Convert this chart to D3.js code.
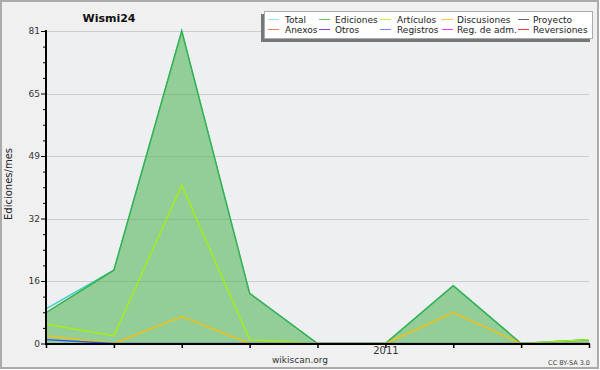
<!DOCTYPE html>
<html><head><meta charset="utf-8">
<script src="https://cdn.jsdelivr.net/npm/d3@7"></script>
<style>body{margin:0;background:#fff}svg{display:block}text{font-family:"DejaVu Sans",sans-serif}</style>
</head><body><svg id="c" width="600" height="370"></svg>
<script>
const months = ["2010-08","2010-09","2010-10","2010-11","2010-12","2011-01","2011-02","2011-03","2011-04"];
const xTickLabels = ["","","","","","2011","","",""];
const yTickLabels = ["0","16","32","49","65","81"];
const total       = [9,19,81,13,0,0,15,0,1];
const ediciones   = [8,19,81,13,0,0,15,0,1];
const articulos   = [5,2,41,1,0,0,0,0,1];
const discusiones = [2,0,7,0,0,0,8,0,0];
const registros   = [1,0,0,0,0,0,0,0,0];
const legendNames = ["Total","Ediciones","Artículos","Discusiones","Proyecto","Anexos","Otros","Registros","Reg. de adm.","Reversiones"];
const legendColors = ["#9ee0e0","#6cc46c","#c6f03c","#f6c83a","#666666","#f08048","#8a3ee0","#7a82ff","#e040e8","#f03838"];
const lineColors = {"Total":"#3ccfcf","Ediciones":"#3cb043","Artículos":"#a6ee10","Discusiones":"#f2c010","Registros":"#3050f0"};
const yMax = 81;

const svg = d3.select("#c");
svg.append("rect").attr("x",1).attr("y",1).attr("width",597).attr("height",367)
  .attr("fill","#f0f0f0").attr("stroke","#ababab").attr("stroke-width",2);

const x = d3.scaleLinear().domain([0, months.length-1]).range([46, 589]);
const y = d3.scaleLinear().domain([0, yMax]).range([343.5, 31]);

const plot = svg.append("g");
plot.append("rect").attr("x",46).attr("y",31).attr("width",543).attr("height",312.5).attr("fill","#eeeff1");

const majors = d3.range(1,6).map(k => yMax*k/5);
plot.selectAll(".grid").data(majors).enter().append("line")
  .attr("x1",46).attr("x2",589).attr("y1",d=>Math.round(y(d))+0.5).attr("y2",d=>Math.round(y(d))+0.5)
  .attr("stroke","#cdcdcd").attr("stroke-width",1);

const area = d3.area().x((d,i)=>x(i)).y0(y(0)).y1(d=>y(d));
plot.append("path").datum(ediciones).attr("d",area).attr("fill","rgb(72,178,80)").attr("fill-opacity",0.55);

const line = d3.line().x((d,i)=>x(i)).y(d=>y(d));
const series = [["Total",total],["Ediciones",ediciones],["Artículos",articulos],["Discusiones",discusiones],["Registros",registros]];
series.forEach(([n,v]) => {
  plot.append("path").datum(v).attr("d",line).attr("fill","none")
    .attr("stroke",lineColors[n]).attr("stroke-width",1.4).attr("stroke-linejoin","miter");
});

const minorTicks = d3.range(0,21).map(k => yMax*k/20);
const yAxis = d3.axisLeft(y).tickValues(minorTicks)
  .tickSize(0).tickFormat((d,i)=> i%4===0 ? yTickLabels[i/4] : "");
const ya = svg.append("g").attr("transform","translate(46,0)").call(yAxis);
ya.select(".domain").remove();
ya.selectAll(".tick line").remove();
ya.selectAll(".tick").append("line").attr("x1",(d,i)=> i%4===0 ? -5 : -3).attr("x2",0).attr("stroke","#000");
ya.selectAll("text").attr("x",-6).attr("font-size",9).attr("fill","#333").attr("font-family","DejaVu Sans");
ya.append("line").attr("x1",0).attr("x2",0).attr("y1",30).attr("y2",344).attr("stroke","#000").attr("stroke-width",2);

const xAxis = d3.axisBottom(x).tickValues(d3.range(months.length)).tickSize(4).tickFormat((d,i)=>xTickLabels[i]);
const xa = svg.append("g").attr("transform","translate(0,344)").call(xAxis);
xa.select(".domain").remove();
xa.selectAll(".tick line").attr("stroke","#000").attr("stroke-width",1.5);
xa.selectAll("text").attr("font-size",10).attr("fill","#333").attr("dy","0.3em").attr("font-family","DejaVu Sans");
xa.append("line").attr("x1",45).attr("x2",590).attr("y1",0).attr("y2",0).attr("stroke","#000").attr("stroke-width",2);

svg.append("text").attr("x",109).attr("y",21.5).attr("text-anchor","middle").attr("font-size",11).attr("font-weight","bold").attr("fill","#111").text("Wismi24");
svg.append("text").attr("transform","translate(12,184) rotate(-90)").attr("text-anchor","middle").attr("font-size",10).attr("fill","#222").text("Ediciones/mes");
svg.append("text").attr("x",300).attr("y",363).attr("text-anchor","middle").attr("font-size",9).attr("fill","#333").text("wikiscan.org");
svg.append("text").attr("x",590).attr("y",364.5).attr("text-anchor","end").attr("font-size",6.5).attr("fill","#444").text("CC BY-SA 3.0");

const lg = svg.append("g");
lg.append("rect").attr("x",261).attr("y",14).attr("width",329).attr("height",28).attr("fill","#777");
lg.append("rect").attr("x",264.5).attr("y",11.5).attr("width",328).attr("height",27).attr("fill","#fff").attr("stroke","#aaa");
const colX = [268,319,380,442,518];
const textX = [285,335,397,457,533];
legendNames.forEach((n,i)=>{
  const r = Math.floor(i/5), c = i%5;
  const ly = 19 + r*10;
  lg.append("line").attr("x1",colX[c]).attr("x2",colX[c]+11).attr("y1",ly+0.5).attr("y2",ly+0.5).attr("stroke",legendColors[i]).attr("stroke-width",1);
  lg.append("text").attr("x",textX[c]).attr("y",ly+3.5).attr("font-size",9).attr("fill","#222").text(n);
});
</script></body></html>
